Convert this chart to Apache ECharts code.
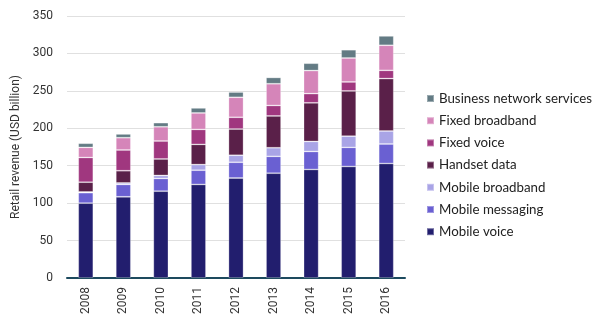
<!DOCTYPE html>
<html><head><meta charset="utf-8">
<script src="https://cdn.jsdelivr.net/npm/echarts@6/dist/echarts.min.js"></script>
<style>html,body{margin:0;padding:0;background:#fff}#c{width:600px;height:330px}</style>
</head><body><div id="c"></div>
<script>
var years = ['2008','2009','2010','2011','2012','2013','2014','2015','2016'];
var mobileVoice      = [100, 108.5, 116, 125, 133.6, 140, 145, 149, 153];
var mobileMessaging  = [14, 16.5, 17, 19, 21, 22.5, 24, 25.5, 26];
var mobileBroadband  = [1, 2, 4, 7.5, 9.4, 11.5, 13.4, 15, 17.4];
var handsetData      = [13, 16.3, 22, 27, 35, 42.5, 51.6, 60.4, 70];
var fixedVoice       = [33, 27.7, 24, 20, 15.7, 14, 12.3, 12, 11];
var fixedBroadband   = [13.5, 16.4, 19, 22, 26.7, 29, 30.8, 32, 33.5];
var businessNetwork  = [5.5, 5, 5.5, 6.7, 7, 8.4, 9.8, 11, 12.5];
var yTicks = [0, 50, 100, 150, 200, 250, 300, 350];

var seriesDefs = [
  ['Mobile voice', mobileVoice, '#221e6e'],
  ['Mobile messaging', mobileMessaging, '#6a60d2'],
  ['Mobile broadband', mobileBroadband, '#a9a4e6'],
  ['Handset data', handsetData, '#5a2049'],
  ['Fixed voice', fixedVoice, '#a0377f'],
  ['Fixed broadband', fixedBroadband, '#d585b9'],
  ['Business network services', businessNetwork, '#637b84']
];
var chart = echarts.init(document.getElementById('c'), null, {renderer:'canvas'});
chart.setOption({
  animation: false,
  grid: {left: 67, right: 195, top: 16, bottom: 52},
  legend: {
    orient: 'vertical', left: 421, top: 87, itemWidth: 7, itemHeight: 7, itemGap: 9.2,
    icon: 'rect',
    data: seriesDefs.map(function(s){return s[0];}).reverse(),
    textStyle: {fontFamily: 'Lato', fontSize: 13.3, color: '#222'}
  },
  xAxis: {
    type: 'category', data: years,
    axisLine: {lineStyle: {color: '#1d4a5e', width: 2}},
    axisTick: {show: false},
    axisLabel: {rotate: 90, fontFamily: 'Roboto', fontSize: 12, color: '#333', margin: 9}
  },
  yAxis: {
    type: 'value', min: 0, max: 350, interval: 50,
    name: 'Retail revenue (USD billion)', nameLocation: 'middle', nameGap: 42,
    nameTextStyle: {fontFamily: 'Roboto', fontSize: 12, color: '#333'},
    axisLine: {show: false},
    axisTick: {show: false},
    splitLine: {lineStyle: {color: '#e0e0e0'}},
    axisLabel: {fontFamily: 'Roboto', fontSize: 12, color: '#333', margin: 14,
      formatter: function(v){ return yTicks.indexOf(v) >= 0 ? String(v) : ''; }}
  },
  series: seriesDefs.map(function(s){
    return {name: s[0], type: 'bar', stack: 'total', data: s[1], barWidth: 15,
      itemStyle: {color: s[2], borderColor: 'rgba(255,255,255,0.35)', borderWidth: 0.8}};
  })
});
</script></body></html>
